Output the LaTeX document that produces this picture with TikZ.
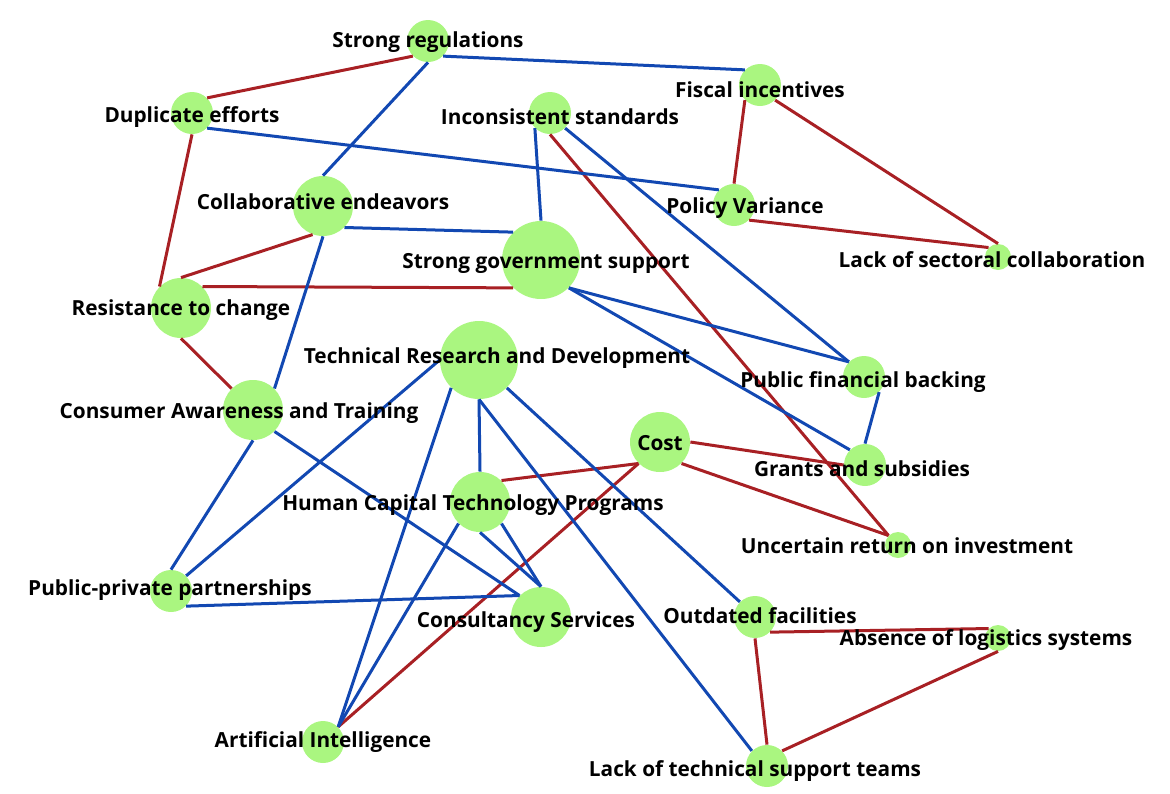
\documentclass[tikz,border=0pt]{standalone}
\usepackage{fontspec}
\setmainfont{Open Sans}
\definecolor{nodegreen}{RGB}{170,246,128}
\definecolor{linkblue}{RGB}{18,72,178}
\definecolor{linkred}{RGB}{168,32,36}
\begin{document}
\begin{tikzpicture}[x=0.5pt,y=-0.5pt,
		dot/.style={circle,fill=nodegreen,inner sep=0pt,minimum size=#1},
		lbl/.style={inner sep=0pt,font=\fontsize{10.4pt}{12pt}\selectfont\bfseries},
		blu/.style={linkblue,line width=1.5pt},
		rd/.style={linkred,line width=1.5pt}]
		\useasboundingbox (0,0) rectangle (1170,793);
		
		% Nodes
		\node[dot=21pt] (sr) at (428,41) {};
		\node[dot=21pt] (fi) at (760,85) {};
		\node[dot=21pt] (de) at (192,113) {};
		\node[dot=21pt] (is) at (550,113) {};
		\node[dot=30pt] (ce) at (323,206) {};
		\node[dot=21pt] (pv) at (734,205) {};
		\node[dot=39pt] (sgs) at (541,260) {};
		\node[dot=13pt] (lsc) at (998,257) {};
		\node[dot=30pt] (rc) at (181,308) {};
		\node[dot=39pt] (trd) at (479,360) {};
		\node[dot=21pt] (pfb) at (864,377) {};
		\node[dot=30pt] (cat) at (253,410) {};
		\node[dot=30pt] (cost) at (660,442) {};
		\node[dot=21pt] (gs) at (865,465) {};
		\node[dot=30pt] (hc) at (480,502) {};
		\node[dot=13pt] (uri) at (898,545) {};
		\node[dot=21pt] (ppp) at (171,591) {};
		\node[dot=30pt] (cs) at (541,617) {};
		\node[dot=21pt] (of) at (755,617) {};
		\node[dot=13pt] (als) at (998,638) {};
		\node[dot=21pt] (ai) at (323,742) {};
		\node[dot=21pt] (lts) at (767,766) {};
		
		% Edges
		\draw[rd] (sr.south west) -- (de.north east);
		\draw[rd] (de.south) -- (rc.north west);
		\draw[rd] (rc.north) -- (ce.-110);
		\draw[rd] (rc.north east) -- (sgs.south west);
		\draw[rd] (rc.south) -- (cat.north west);
		\draw[rd] (fi.south west) -- (pv.north);
		\draw[rd] (fi.south east) -- (lsc.north);
		\draw[rd] (pv.south east) -- (lsc.north west);
		\draw[rd] (is.south) -- (uri.north west);
		\draw[rd] (cost.south west) -- (hc.north east);
		\draw[rd] (cost.south west) -- (ai.north east);
		\draw[rd] (cost.east) -- (gs.west);
		\draw[rd] (cost.south east) -- (uri.north west);
		\draw[rd] (of.south east) -- (als.north west);
		\draw[rd] (of.south) -- (lts.north);
		\draw[rd] (als.south) -- (lts.north east);
		
		\draw[blu] (sr.south) -- (ce.north);
		\draw[blu] (sr.south east) -- (fi.north west);
		\draw[blu] (de.south east) -- (pv.north west);
		\draw[blu] (ce.south east) -- (sgs.north west);
		\draw[blu] (ce.south) -- (cat.north east);
		\draw[blu] (is.south west) -- (sgs.north);
		\draw[blu] (is.south east) -- (pfb.north west);
		\draw[blu] (sgs.south east) -- (pfb.north west);
		\draw[blu] (sgs.south east) -- (gs.north west);
		\draw[blu] (pfb.south east) -- (gs.north);
		\draw[blu] (trd.south) -- (hc.north);
		\draw[blu] (trd.south) -- (lts.north west);
		\draw[blu] (trd.south east) -- (of.north west);
		\draw[blu] (trd.south west) -- (ai.north east);
		\draw[blu] (trd.west) -- (ppp.north east);
		\draw[blu] (cat.south) -- (ppp.north);
		\draw[blu] (cat.south east) -- (cs.north west);
		\draw[blu] (ppp.south east) -- (cs.north west);
		\draw[blu] (hc.south) -- (cs.north);
		\draw[blu] (hc.south east) -- (cs.north);
		\draw[blu] (hc.south west) -- (ai.north east);
		
		% Labels
		\node[lbl] (sr-l) at (428,42) {Strong regulations};
		\node[lbl] (fi-l) at (760,90) {Fiscal incentives};
		\node[lbl] (de-l) at (192,117) {Duplicate efforts};
		\node[lbl] (is-l) at (560,117) {Inconsistent standards};
		\node[lbl] (ce-l) at (323,202) {Collaborative endeavors};
		\node[lbl] (pv-l) at (745,208) {Policy Variance};
		\node[lbl] (sgs-l) at (546,263) {Strong government support};
		\node[lbl] (lsc-l) at (992,260) {Lack of sectoral collaboration};
		\node[lbl] (rc-l) at (181,310) {Resistance to change};
		\node[lbl] (trd-l) at (497,358) {Technical Research and Development};
		\node[lbl] (pfb-l) at (863,382) {Public financial backing};
		\node[lbl] (cat-l) at (239,413) {Consumer Awareness and Training};
		\node[lbl] (cost-l) at (660,443) {Cost};
		\node[lbl] (gs-l) at (862,469) {Grants and subsidies};
		\node[lbl] (hc-l) at (473,505) {Human Capital Technology Programs};
		\node[lbl] (uri-l) at (907,546) {Uncertain return on investment};
		\node[lbl] (ppp-l) at (170,590) {Public-private partnerships};
		\node[lbl] (cs-l) at (526,622) {Consultancy Services};
		\node[lbl] (of-l) at (760,616) {Outdated facilities};
		\node[lbl] (als-l) at (986,640) {Absence of logistics systems};
		\node[lbl] (ai-l) at (323,742) {Artificial Intelligence};
		\node[lbl] (lts-l) at (755,771) {Lack of technical support teams};
		
	\end{tikzpicture}
\end{document}
